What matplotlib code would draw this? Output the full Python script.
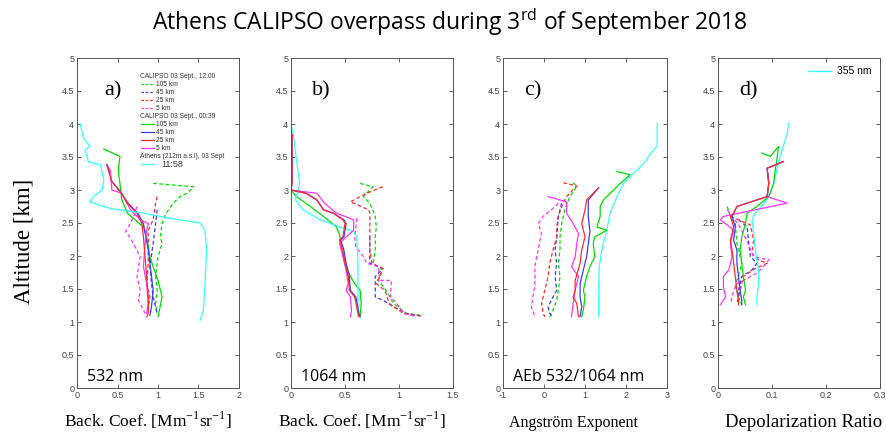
import matplotlib
matplotlib.use("Agg")
import matplotlib.pyplot as plt

# colours for the five series
C_G, C_B, C_R, C_M, C_C = "#00dd00", "#3a3aff", "#ff2a2a", "#ff33ff", "#33ffff"

# ---- panel a: backscatter 532 nm ----
a_cyan_x = [0.04, 0.08, 0.16, 0.10, 0.14, 0.29, 0.33, 0.31, 0.20, 0.16, 0.41, 0.82, 1.15, 1.52, 1.58, 1.60, 1.58, 1.56, 1.52]
a_cyan_y = [4.00, 3.79, 3.66, 3.61, 3.43, 3.38, 3.15, 3.00, 2.90, 2.82, 2.72, 2.65, 2.57, 2.50, 2.39, 2.09, 1.58, 1.18, 1.03]
a_g_x = [0.33, 0.53, 0.51, 0.53, 0.55, 0.62, 0.82, 0.86, 0.90, 0.94, 1.00, 1.05, 1.01, 1.00]
a_g_y = [3.62, 3.51, 3.30, 3.10, 2.87, 2.65, 2.44, 2.29, 1.99, 1.84, 1.63, 1.38, 1.13, 1.08]
a_r_x = [0.37, 0.43, 0.55, 0.62, 0.74, 0.80, 0.82, 0.84, 0.86, 0.88, 0.88, 0.86]
a_r_y = [3.38, 3.13, 2.95, 2.80, 2.65, 2.49, 2.29, 1.99, 1.69, 1.38, 1.13, 1.08]
a_b_x = [0.37, 0.43, 0.55, 0.63, 0.75, 0.82, 0.88, 0.92, 0.94, 0.92, 0.90]
a_b_y = [3.38, 3.13, 2.95, 2.80, 2.65, 2.49, 2.09, 1.69, 1.48, 1.23, 1.10]
a_m_x = [0.37, 0.41, 0.43, 0.55, 0.66, 0.78, 0.88, 0.86, 0.84, 0.82, 0.86, 0.88, 0.86]
a_m_y = [3.38, 3.30, 3.00, 2.95, 2.70, 2.55, 2.49, 2.39, 2.19, 1.84, 1.58, 1.28, 1.13]
a_gd_x = [0.94, 1.44, 1.36, 1.27, 1.19, 1.10, 1.05, 1.03, 1.05, 1.00, 0.97, 0.99, 0.97, 0.99]
a_gd_y = [3.10, 3.05, 2.95, 2.90, 2.80, 2.65, 2.49, 2.29, 2.19, 1.99, 1.69, 1.48, 1.28, 1.13]
a_rd_x = [0.99, 0.97, 0.94, 0.88, 0.88, 0.88, 0.86, 0.90, 0.88]
a_rd_y = [2.90, 2.80, 2.55, 2.39, 2.09, 1.89, 1.58, 1.38, 1.18]
a_bd_x = [0.99, 0.97, 0.94, 0.90, 0.92, 0.94, 0.99]
a_bd_y = [2.70, 2.49, 2.19, 1.84, 1.58, 1.38, 1.13]
a_md_x = [0.74, 0.70, 0.66, 0.60, 0.66, 0.78, 0.74, 0.78, 0.76, 0.82, 0.84]
a_md_y = [2.75, 2.60, 2.50, 2.37, 2.27, 1.99, 1.69, 1.48, 1.33, 1.18, 1.13]

# ---- panel b: backscatter 1064 nm ----
b_cyan_x = [0.00, 0.02, 0.05, 0.08, 0.07, 0.04, 0.11, 0.27, 0.45, 0.58, 0.61, 0.62, 0.62, 0.62]
b_cyan_y = [3.99, 3.86, 3.46, 3.10, 3.00, 2.85, 2.70, 2.55, 2.44, 2.37, 2.29, 1.89, 1.48, 1.08]
b_g_x = [0.00, 0.05, 0.18, 0.30, 0.42, 0.45, 0.47, 0.50, 0.55, 0.59, 0.64, 0.65, 0.64]
b_g_y = [3.00, 2.90, 2.75, 2.60, 2.44, 2.32, 2.09, 1.89, 1.69, 1.58, 1.48, 1.28, 1.08]
b_r_x = [0.01, 0.01, 0.00, 0.14, 0.24, 0.30, 0.39, 0.48, 0.50, 0.48, 0.45, 0.48, 0.50, 0.53, 0.54, 0.59, 0.62, 0.63]
b_r_y = [3.84, 3.10, 3.00, 2.95, 2.85, 2.70, 2.65, 2.55, 2.49, 2.29, 2.24, 2.09, 1.89, 1.69, 1.48, 1.38, 1.13, 1.08]
b_b_x = [0.01, 0.01, 0.00, 0.14, 0.24, 0.30, 0.39, 0.49, 0.51, 0.49, 0.46, 0.49, 0.51, 0.54, 0.55, 0.60, 0.63, 0.64]
b_b_y = [3.84, 3.10, 3.00, 2.95, 2.85, 2.70, 2.65, 2.55, 2.49, 2.29, 2.24, 2.09, 1.89, 1.69, 1.48, 1.38, 1.13, 1.08]
b_m_x = [0.00, 0.00, 0.00, 0.24, 0.31, 0.42, 0.58, 0.58, 0.51, 0.45, 0.48, 0.51, 0.53, 0.51, 0.55, 0.56, 0.55]
b_m_y = [3.86, 3.10, 3.00, 2.95, 2.80, 2.65, 2.55, 2.39, 2.29, 2.19, 1.99, 1.79, 1.58, 1.48, 1.38, 1.18, 1.08]
b_gd_x = [0.64, 0.76, 0.67, 0.73, 0.78, 0.79, 0.78, 0.78, 0.76, 0.85, 0.81, 0.88, 0.95, 1.07, 1.22]
b_gd_y = [3.10, 3.05, 2.90, 2.80, 2.60, 2.44, 2.29, 2.09, 1.89, 1.79, 1.63, 1.48, 1.28, 1.13, 1.10]
b_rd_x = [0.85, 0.70, 0.55, 0.72, 0.73, 0.73, 0.73, 0.75, 0.85, 0.79, 0.87, 0.91, 1.04, 1.22]
b_rd_y = [3.05, 2.95, 2.82, 2.70, 2.65, 2.29, 2.09, 1.89, 1.81, 1.58, 1.48, 1.28, 1.13, 1.09]
b_bd_x = [0.73, 0.73, 0.85, 0.78, 0.78, 0.85, 0.95, 1.07, 1.20]
b_bd_y = [2.29, 1.89, 1.81, 1.69, 1.38, 1.33, 1.23, 1.13, 1.09]
b_md_x = [0.61, 0.59, 0.60, 0.67, 0.70, 0.81, 0.82, 0.93, 0.92, 0.98, 1.04, 1.16]
b_md_y = [2.57, 2.29, 2.14, 1.99, 1.89, 1.84, 1.63, 1.63, 1.38, 1.28, 1.13, 1.08]

# ---- panel c: Angstrom exponent ----
c_cyan_x = [2.76, 2.76, 2.67, 2.43, 2.18, 1.94, 1.78, 1.61, 1.53, 1.41, 1.35, 1.33, 1.33]
c_cyan_y = [4.01, 3.66, 3.61, 3.40, 3.25, 3.10, 2.90, 2.65, 2.39, 2.09, 1.84, 1.48, 1.08]
c_g_x = [1.78, 2.10, 1.86, 1.45, 1.37, 1.37, 1.29, 1.53, 1.24, 1.20, 1.24, 1.12, 1.04, 0.96, 1.00, 0.96, 0.92]
c_g_y = [3.28, 3.23, 3.10, 2.85, 2.75, 2.60, 2.44, 2.39, 2.29, 2.19, 1.99, 1.84, 1.69, 1.48, 1.38, 1.18, 1.08]
c_r_x = [1.33, 1.20, 1.04, 1.00, 0.92, 1.00, 0.92, 0.88, 0.76, 0.76, 0.71, 0.80, 0.84]
c_r_y = [3.03, 2.95, 2.85, 2.70, 2.49, 2.29, 2.09, 1.89, 1.63, 1.48, 1.38, 1.28, 1.08]
c_b_x = [1.33, 1.08, 1.08, 1.12, 1.08, 1.04, 0.96, 0.88, 0.88, 0.92, 0.88]
c_b_y = [3.03, 2.85, 2.60, 2.37, 2.19, 1.99, 1.79, 1.58, 1.38, 1.23, 1.08]
c_m_x = [0.10, 0.55, 0.55, 0.71, 0.84, 0.80, 0.76, 0.67, 0.84, 0.76, 0.71, 0.67]
c_m_y = [2.90, 2.82, 2.65, 2.49, 2.34, 2.19, 1.99, 1.84, 1.69, 1.48, 1.28, 1.08]
c_gd_x = [0.71, 0.80, 0.63, 0.51, 0.43, 0.39, 0.39, 0.35, 0.39, 0.35, 0.31, 0.22, 0.14]
c_gd_y = [3.11, 3.06, 2.90, 2.70, 2.49, 2.29, 2.09, 1.89, 1.69, 1.48, 1.33, 1.18, 1.08]
c_rd_x = [0.47, 0.80, 0.55, 0.43, 0.35, 0.31, 0.31, 0.22, 0.14, 0.10, 0.02, -0.06, -0.02, 0.02]
c_rd_y = [3.11, 3.06, 2.90, 2.75, 2.60, 2.44, 2.29, 2.09, 1.89, 1.69, 1.48, 1.28, 1.13, 1.08]
c_bd_x = [0.43, 0.35, 0.31, 0.27, 0.31, 0.27, 0.31, 0.22, 0.10, 0.14, 0.22]
c_bd_y = [2.80, 2.60, 2.29, 2.09, 1.89, 1.69, 1.48, 1.38, 1.23, 1.13, 1.08]
c_md_x = [0.35, 0.18, -0.02, -0.14, -0.06, -0.10, -0.14, -0.18, -0.22, -0.22, -0.27, -0.31, -0.22]
c_md_y = [2.80, 2.70, 2.60, 2.49, 2.34, 2.24, 2.09, 1.99, 1.84, 1.58, 1.38, 1.23, 1.08]

# ---- panel d: depolarization ratio ----
d_cyan_x = [0.131, 0.128, 0.121, 0.115, 0.109, 0.103, 0.094, 0.081, 0.069, 0.063, 0.066, 0.069, 0.075, 0.075, 0.072, 0.072]
d_cyan_y = [4.01, 3.86, 3.66, 3.51, 3.30, 3.10, 2.90, 2.75, 2.65, 2.55, 2.34, 2.09, 1.79, 1.58, 1.38, 1.26]
d_g_x = [0.081, 0.097, 0.112, 0.109, 0.106, 0.103, 0.094, 0.072, 0.054, 0.051, 0.044, 0.041, 0.044, 0.047, 0.051, 0.047, 0.051]
d_g_y = [3.56, 3.51, 3.66, 3.46, 3.30, 3.10, 2.90, 2.75, 2.65, 2.49, 2.29, 2.09, 1.89, 1.69, 1.48, 1.38, 1.26]
d_r_x = [0.121, 0.091, 0.094, 0.091, 0.035, 0.029, 0.023, 0.029, 0.023, 0.026, 0.029, 0.032, 0.035, 0.038, 0.038]
d_r_y = [3.43, 3.33, 3.10, 2.90, 2.75, 2.65, 2.60, 2.44, 2.24, 2.09, 1.89, 1.69, 1.48, 1.33, 1.26]
d_b_x = [0.121, 0.091, 0.094, 0.091, 0.035, 0.029, 0.026, 0.032, 0.029, 0.035, 0.035, 0.038, 0.041, 0.044, 0.044]
d_b_y = [3.43, 3.33, 3.10, 2.90, 2.75, 2.65, 2.60, 2.44, 2.24, 2.09, 1.89, 1.69, 1.48, 1.33, 1.26]
d_m_x = [0.121, 0.091, 0.094, 0.091, 0.128, 0.010, 0.004, 0.017, 0.029, 0.023, 0.026, 0.020, 0.010, 0.010, 0.014, 0.004]
d_m_y = [3.43, 3.33, 3.10, 2.90, 2.80, 2.60, 2.55, 2.47, 2.39, 2.19, 1.99, 1.79, 1.69, 1.53, 1.38, 1.26]
d_gd_x = [0.017, 0.023, 0.032, 0.035, 0.044, 0.041, 0.035, 0.032, 0.038, 0.044]
d_gd_y = [2.75, 2.60, 2.49, 2.19, 1.89, 1.79, 1.63, 1.53, 1.38, 1.26]
d_bd_x = [0.038, 0.054, 0.057, 0.060, 0.072, 0.063, 0.044, 0.038, 0.038]
d_bd_y = [2.55, 2.44, 2.19, 1.99, 1.89, 1.79, 1.69, 1.48, 1.28]
d_rd_x = [0.023, 0.060, 0.066, 0.063, 0.075, 0.091, 0.069, 0.047, 0.041, 0.035]
d_rd_y = [2.60, 2.47, 2.24, 2.04, 1.94, 1.89, 1.81, 1.69, 1.48, 1.28]
d_md_x = [0.017, 0.040, 0.055, 0.066, 0.094, 0.084, 0.072, 0.035, 0.029, 0.023]
d_md_y = [2.70, 2.45, 2.20, 1.99, 1.94, 1.84, 1.74, 1.58, 1.48, 1.28]

xlims = [(0, 2), (0, 1.5), (-1, 3), (0, 0.3)]
xticks = [[0, 0.5, 1, 1.5, 2], [0, 0.5, 1, 1.5], [-1, 0, 1, 2, 3], [0, 0.1, 0.2, 0.3]]
xtick_labels = [["0", "0.5", "1", "1.5", "2"], ["0", "0.5", "1", "1.5"],
                ["-1", "0", "1", "2", "3"], ["0", "0.1", "0.2", "0.3"]]
yticks = [0, 0.5, 1, 1.5, 2, 2.5, 3, 3.5, 4, 4.5, 5]
ytick_labels = ["0", "0.5", "1", "1.5", "2", "2.5", "3", "3.5", "4", "4.5", "5"]
panel_tags = ["a)", "b)", "c)", "d)"]
band_text = ["532 nm", "1064 nm", "AEb 532/1064 nm", ""]
xlabels = [r"Back. Coef. [Mm$^{\mathregular{-1}}$sr$^{\mathregular{-1}}$]",
           r"Back. Coef. [Mm$^{\mathregular{-1}}$sr$^{\mathregular{-1}}$]",
           "Angström Exponent", "Depolarization Ratio"]

panels = [
    [(a_gd_x, a_gd_y, C_G, "--"), (a_bd_x, a_bd_y, C_B, "--"), (a_rd_x, a_rd_y, C_R, "--"), (a_md_x, a_md_y, C_M, "--"),
     (a_g_x, a_g_y, C_G, "-"), (a_b_x, a_b_y, C_B, "-"), (a_m_x, a_m_y, C_M, "-"), (a_r_x, a_r_y, C_R, "-"),
     (a_cyan_x, a_cyan_y, C_C, "-")],
    [(b_gd_x, b_gd_y, C_G, "--"), (b_bd_x, b_bd_y, C_B, "--"), (b_rd_x, b_rd_y, C_R, "--"), (b_md_x, b_md_y, C_M, "--"),
     (b_g_x, b_g_y, C_G, "-"), (b_cyan_x, b_cyan_y, C_C, "-"), (b_m_x, b_m_y, C_M, "-"), (b_b_x, b_b_y, C_B, "-"),
     (b_r_x, b_r_y, C_R, "-")],
    [(c_gd_x, c_gd_y, C_G, "--"), (c_bd_x, c_bd_y, C_B, "--"), (c_rd_x, c_rd_y, C_R, "--"), (c_md_x, c_md_y, C_M, "--"),
     (c_cyan_x, c_cyan_y, C_C, "-"), (c_g_x, c_g_y, C_G, "-"), (c_m_x, c_m_y, C_M, "-"), (c_b_x, c_b_y, C_B, "-"),
     (c_r_x, c_r_y, C_R, "-")],
    [(d_gd_x, d_gd_y, C_G, "--"), (d_bd_x, d_bd_y, C_B, "--"), (d_rd_x, d_rd_y, C_R, "--"), (d_md_x, d_md_y, C_M, "--"),
     (d_cyan_x, d_cyan_y, C_C, "-"), (d_g_x, d_g_y, C_G, "-"), (d_m_x, d_m_y, C_M, "-"), (d_b_x, d_b_y, C_B, "-"),
     (d_r_x, d_r_y, C_R, "-")],
]

# legend rows of panel a: (label, colour, style); colour None = header line
legend_rows = [("CALIPSO 03 Sept., 12.00", None, None),
               ("105 km", C_G, "--"), ("45 km", C_B, "--"), ("25 km", C_R, "--"), ("5 km", C_M, "--"),
               ("CALIPSO 03 Sept., 00:39", None, None),
               ("105 km", C_G, "-"), ("45 km", C_B, "-"), ("25 km", C_R, "-"), ("5 km", C_M, "-"),
               ("Athens (212m a.s.l), 03 Sept", None, None),
               ("11:58", C_C, "-")]

SERIF = "Liberation Serif"
SANS = "Liberation Sans"
TITLE_FONT = "Open Sans"

fig = plt.figure(figsize=(8.86, 4.32), dpi=100)
lefts = [77, 291, 503, 718]
widths = [162, 162, 164, 162]
xlabel_size = [12.5, 12.5, 11.5, 13.5]
xlabel_center = [0.435, 0.44, 0.43, 0.53]
axes = []
for i in range(4):
    ax = fig.add_axes([lefts[i] / 886, 44 / 432, widths[i] / 886, 330 / 432])
    axes.append(ax)
    for xs, ys, col, ls in panels[i]:
        ax.plot(xs, ys, color=col, ls=ls, lw=0.9, dashes=(3, 2) if ls == "--" else (None, None))
    ax.set_xlim(*xlims[i])
    ax.set_ylim(0, 5)
    ax.set_xticks(xticks[i])
    ax.set_xticklabels(xtick_labels[i])
    ax.set_yticks(yticks)
    ax.set_yticklabels(ytick_labels)
    ax.tick_params(direction="in", top=True, right=True, length=3, width=0.6,
                   labelsize=6.5, labelcolor="#444444", colors="#444444", pad=2)
    for lab in ax.get_xticklabels() + ax.get_yticklabels():
        lab.set_fontfamily(SANS)
    for sp in ax.spines.values():
        sp.set_color("#555555")
        sp.set_linewidth(0.7)
    ax.text(0.13 if i else 0.17, 0.9, panel_tags[i], transform=ax.transAxes,
            fontsize=16, family=SERIF, va="center")
    if band_text[i]:
        ax.text(0.06, 0.02, band_text[i], transform=ax.transAxes, fontsize=11.5,
                family=TITLE_FONT, va="baseline")
    ax.set_xlabel(xlabels[i], family=SERIF, fontsize=xlabel_size[i], va="baseline")
    ax.xaxis.set_label_coords(xlabel_center[i], -0.118)

# hand-built legend of panel a
ax = axes[0]
y0, step = 0.945, 0.0243
for k, (lab, col, ls) in enumerate(legend_rows):
    y = y0 - k * step
    if col is None:
        ax.text(0.39, y, lab, transform=ax.transAxes, fontsize=4.8, family=SANS,
                va="center", color="#333333")
    else:
        ax.plot([0.395, 0.475], [y, y], transform=ax.transAxes, color=col, ls=ls,
                lw=0.9, dashes=(2, 1.5) if ls == "--" else (None, None))
        big = lab == "11:58"
        ax.text(0.49 if not big else 0.52, y, lab, transform=ax.transAxes,
                fontsize=4.8 if not big else 6.5, family=SANS, va="center", color="#333333")

axes[3].legend(handles=[plt.Line2D([], [], color=C_C, lw=1.0)], labels=["355 nm"],
               loc="upper right", frameon=False, handlelength=2.2,
               handletextpad=0.6, borderaxespad=0.4, prop={"family": SANS, "size": 7.5})

fig.text(24 / 886, 1 - 241 / 432, "Altitude [km]", rotation=90, family=SERIF, fontsize=16.5,
         va="center", ha="center")
fig.text(0.508, 1 - 22 / 432, r"Athens CALIPSO overpass during 3$^{\mathregular{rd}}$ of September 2018",
         family=TITLE_FONT, fontsize=16.5, ha="center", va="center")

fig.savefig("out.png", dpi=100)
